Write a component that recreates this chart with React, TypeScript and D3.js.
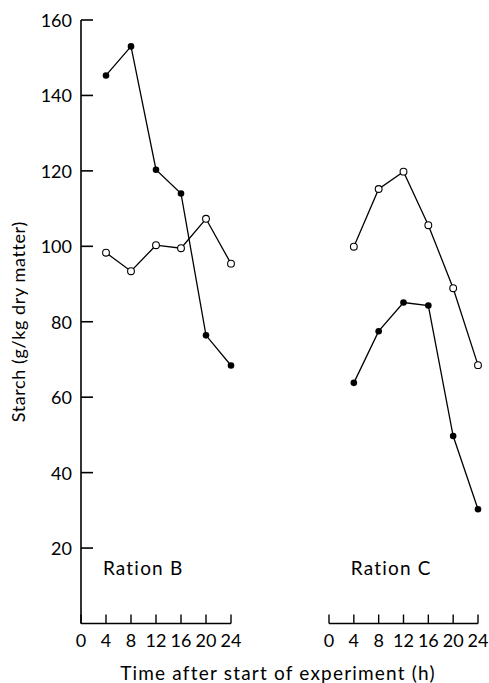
import React from "react";
import * as d3 from "d3";

const hours = [4, 8, 12, 16, 20, 24];
const xTicks = [0, 4, 8, 12, 16, 20, 24];
const yTicks = [20, 40, 60, 80, 100, 120, 140, 160];

// Ration B
const rationBFilled = [145.3, 153.0, 120.3, 114.0, 76.4, 68.4];
const rationBOpen = [98.3, 93.4, 100.3, 99.5, 107.3, 95.4];
// Ration C
const rationCOpen = [99.9, 115.2, 119.8, 105.6, 88.9, 68.5];
const rationCFilled = [63.8, 77.5, 85.1, 84.3, 49.7, 30.3];

const panels = [
  { name: "Ration B", filled: rationBFilled, open: rationBOpen, x0: 81, x1: 231 },
  { name: "Ration C", filled: rationCFilled, open: rationCOpen, x0: 329, x1: 478 },
];

const font = "Lato, 'Open Sans', sans-serif";

export default function App() {
  const width = 489;
  const height = 683;
  const y = d3.scaleLinear().domain([0, 160]).range([623.5, 20]);
  const axisY = 623.5;

  return (
    <svg
      width={width}
      height={height}
      style={{ position: "absolute", left: 0, top: 0, background: "#fff" }}
      fontFamily={font}
    >
      {/* y axis */}
      <line x1={81} x2={81} y1={y(160)} y2={axisY} stroke="#000" strokeWidth={1.6} />
      {yTicks.map((t) => (
        <g key={t}>
          <line x1={81} x2={93} y1={y(t)} y2={y(t)} stroke="#000" strokeWidth={1.6} />
          <text x={72} y={y(t)} textAnchor="end" dominantBaseline="central" fontSize={18}>
            {t}
          </text>
        </g>
      ))}
      <text
        transform={`translate(25, ${(y(160) + axisY) / 2}) rotate(-90)`}
        textAnchor="middle"
        fontSize={18}
        letterSpacing={0.6}
      >
        Starch (g/kg dry matter)
      </text>

      {panels.map((p) => {
        const x = d3.scaleLinear().domain([0, 24]).range([p.x0, p.x1]);
        const line = d3
          .line<number>()
          .x((_, i) => x(hours[i]))
          .y((d) => y(d));
        return (
          <g key={p.name}>
            <line x1={x(0)} x2={x(24)} y1={axisY} y2={axisY} stroke="#000" strokeWidth={1.6} />
            {xTicks.map((t) => (
              <g key={t}>
                <line x1={x(t)} x2={x(t)} y1={axisY} y2={axisY - 9} stroke="#000" strokeWidth={1.4} />
                <text x={x(t)} y={647} textAnchor="middle" fontSize={18}>
                  {t}
                </text>
              </g>
            ))}
            <text x={x(3.5)} y={575} fontSize={19} letterSpacing={1.2}>
              {p.name}
            </text>
            <path d={line(p.open) ?? ""} fill="none" stroke="#000" strokeWidth={1.3} />
            <path d={line(p.filled) ?? ""} fill="none" stroke="#000" strokeWidth={1.3} />
            {p.open.map((v, i) => (
              <circle key={"o" + i} cx={x(hours[i])} cy={y(v)} r={3.4} fill="#fff" stroke="#000" strokeWidth={1.1} />
            ))}
            {p.filled.map((v, i) => (
              <circle key={"f" + i} cx={x(hours[i])} cy={y(v)} r={3.3} fill="#000" />
            ))}
          </g>
        );
      })}

      <text x={278} y={680} textAnchor="middle" fontSize={19} letterSpacing={1.2}>
        Time after start of experiment (h)
      </text>
    </svg>
  );
}
